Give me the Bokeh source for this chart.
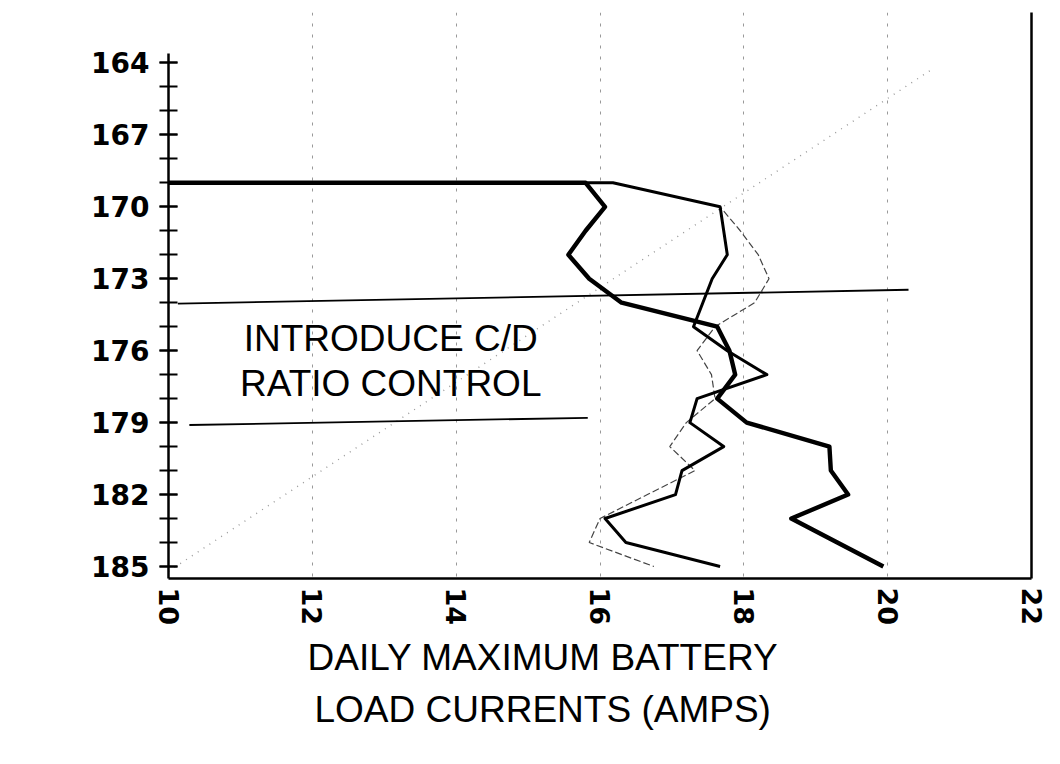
import math
from bokeh.plotting import figure
from bokeh.models import Range1d, FixedTicker, LinearAxis, Title
from bokeh.core.properties import value
from bokeh.embed import file_html
from bokeh.resources import INLINE

# ---- data ----
# day numbers (vertical axis) and daily maximum battery load currents (amps)
heavy_days = [169, 169, 170, 171, 172, 173, 174, 175, 176, 177, 178, 179, 180, 181, 182, 183, 184, 185]
heavy_amps = [10.0, 15.8, 16.07, 15.8, 15.56, 15.85, 16.3, 17.63, 17.8, 17.88, 17.63, 18.04, 19.19, 19.21, 19.45, 18.66, 19.3, 19.94]

medium_days = [169, 169, 170, 171, 172, 173, 174, 175, 176, 177, 178, 179, 180, 181, 182, 183, 184, 185]
medium_amps = [10.0, 16.18, 17.67, 17.72, 17.77, 17.56, 17.43, 17.3, 17.77, 18.32, 17.35, 17.25, 17.72, 17.14, 17.05, 16.07, 16.36, 17.67]

thin_days = [169, 169, 170, 171, 172, 173, 174, 175, 176, 177, 178, 179, 180, 181, 182, 183, 184, 185]
thin_amps = [10.0, 16.18, 17.67, 17.95, 18.2, 18.35, 18.15, 17.6, 17.35, 17.55, 17.6, 17.2, 16.97, 17.32, 16.66, 16.0, 15.85, 16.75]

diag_amps = [10.0, 20.6]
diag_days = [185.2, 164.3]

x_ticks = [10, 12, 14, 16, 18, 20, 22]
grid_ticks = [12, 14, 16, 18, 20]
y_label_ticks = [164, 167, 170, 173, 176, 179, 182, 185]
y_minor_ticks = list(range(164, 186))

marker_x0 = [10.13, 10.29]
marker_y0 = [174.04, 179.1]
marker_x1 = [20.29, 15.83]
marker_y1 = [173.46, 178.8]

note_lines = ["INTRODUCE C/D", "RATIO CONTROL"]
note_x = [13.09, 13.09]
note_y = [175.5, 177.35]

title_lines = ["DAILY MAXIMUM BATTERY", "LOAD CURRENTS (AMPS)"]

# ---- figure ----
p = figure(width=1052, height=746, output_backend="svg", toolbar_location=None,
           x_range=Range1d(10, 22), y_range=Range1d(185.5, 161.9),
           min_border_left=168, min_border_right=21, min_border_top=12,
           min_border_bottom=168)
p.outline_line_color = None
p.background_fill_color = "white"
p.border_fill_color = "white"

xa = p.xaxis[0]
xa.ticker = FixedTicker(ticks=x_ticks)
xa.major_label_orientation = -math.pi / 2
xa.major_tick_in = 0
xa.major_tick_out = 0
xa.minor_tick_in = 0
xa.minor_tick_out = 0
xa.axis_line_width = 2.5
xa.axis_line_color = "black"
xa.major_label_text_font = "DejaVu Sans"
xa.major_label_text_font_style = "bold"
xa.major_label_text_font_size = "27px"
xa.major_label_text_color = "black"
xa.major_label_standoff = 9

ya = p.yaxis[0]
ya.ticker = FixedTicker(ticks=y_label_ticks, minor_ticks=y_minor_ticks)
ya.bounds = (163.6, 185.5)
ya.major_tick_in = 9
ya.major_tick_out = 9
ya.minor_tick_in = 9
ya.minor_tick_out = 9
ya.major_tick_line_width = 2
ya.minor_tick_line_width = 2
ya.major_tick_line_color = "black"
ya.minor_tick_line_color = "black"
ya.axis_line_width = 2.5
ya.axis_line_color = "black"
ya.major_label_text_font = "DejaVu Sans"
ya.major_label_text_font_style = "bold"
ya.major_label_text_font_size = "28px"
ya.major_label_text_color = "black"
ya.major_label_standoff = 10

right = LinearAxis(ticker=FixedTicker(ticks=[]), axis_line_width=2.5,
                   axis_line_color="black", major_tick_in=0, major_tick_out=0,
                   minor_tick_in=0, minor_tick_out=0)
p.add_layout(right, "right")

p.xgrid.ticker = FixedTicker(ticks=grid_ticks)
p.xgrid.grid_line_color = "#999999"
p.xgrid.grid_line_dash = "3 8"
p.xgrid.grid_line_width = 1
p.ygrid.visible = False

# dotted diagonal
p.line(diag_amps, diag_days, line_color="#999999", line_width=1.4, line_dash="1 6")

# annotation marker lines
p.segment(x0=marker_x0, y0=marker_y0, x1=marker_x1, y1=marker_y1,
          line_color="black", line_width=1.8)

# series
p.line(thin_amps, thin_days, line_color="#444444", line_width=1.2, line_dash="7 3")
p.line(medium_amps, medium_days, line_color="black", line_width=3, line_join="round")
p.line(heavy_amps, heavy_days, line_color="black", line_width=4.4, line_join="round")

# note text
p.text(x=note_x, y=note_y, text=note_lines, text_font=value("Liberation Sans"),
       text_font_size="37px", text_align="center", text_baseline="middle",
       text_color="black")

# two-line axis title under the tick labels (left-aligned with pixel offsets)
title_offsets = [139, 146]
title_standoffs = [12, 6]
for line, off, so in zip(title_lines, title_offsets, title_standoffs):
    p.add_layout(Title(text=line, align="left", offset=off,
                       text_font="Liberation Sans", text_font_size="37px",
                       text_font_style="normal", text_color="black",
                       standoff=so), "below")

open("out.html", "w").write(file_html(p, INLINE))
